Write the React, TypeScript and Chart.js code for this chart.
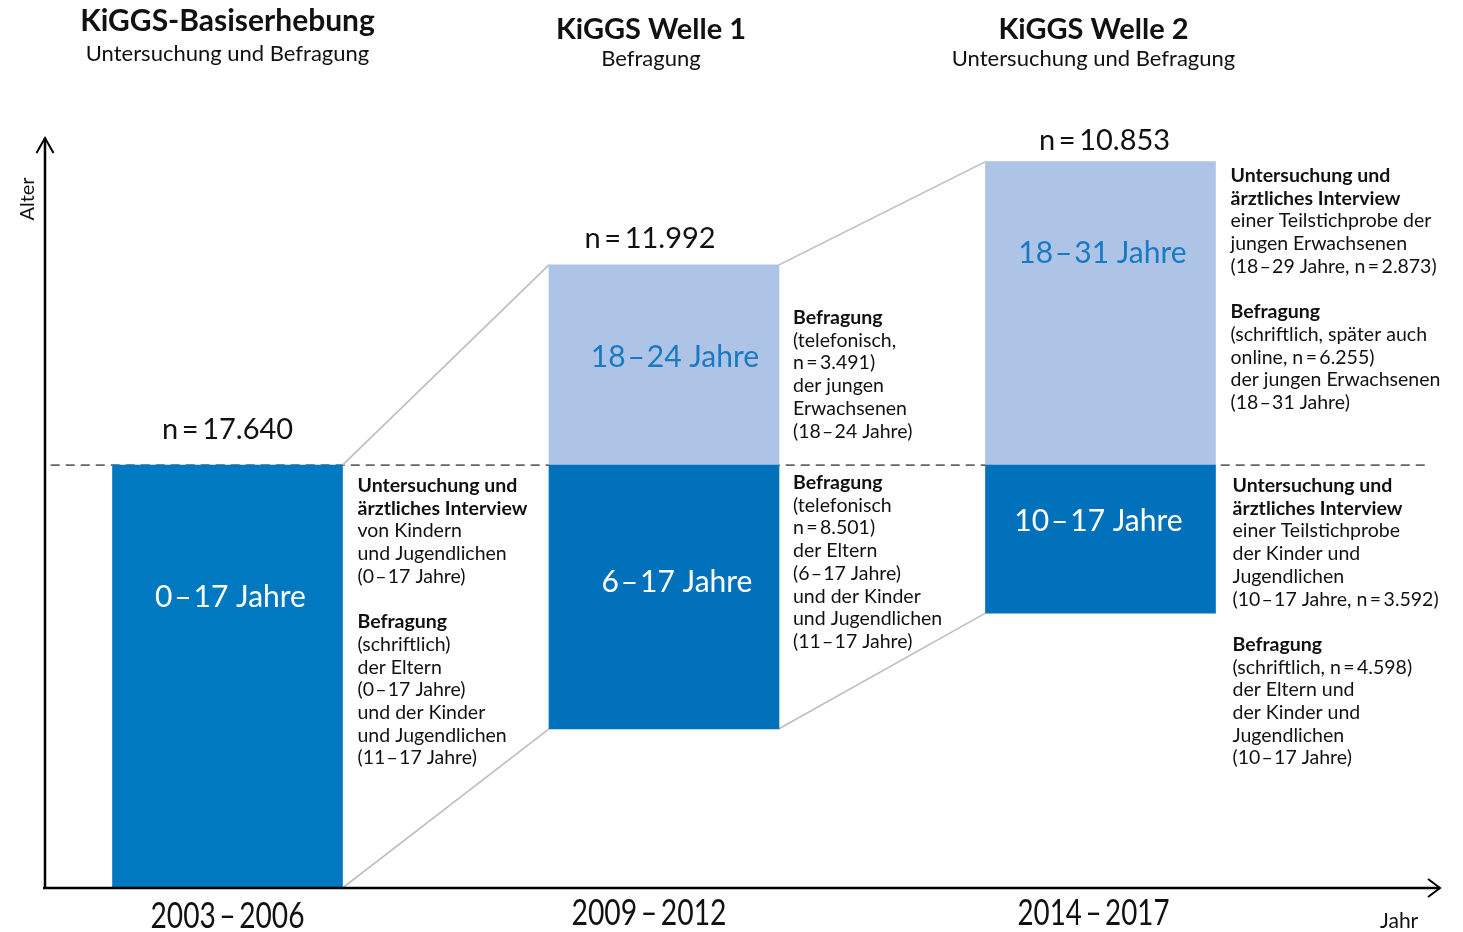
import React, { useEffect, useRef } from "react";
import { Chart, registerables } from "chart.js";

Chart.register(...registerables);

// ---------- data ----------
const waveTitles = ["KiGGS-Basiserhebung", "KiGGS Welle 1", "KiGGS Welle 2"];
const waveSubtitles = ["Untersuchung und Befragung", "Befragung", "Untersuchung und Befragung"];
const periods = ["2003\u2009–\u20092006", "2009\u2009–\u20092012", "2014\u2009–\u20092017"];
const sampleSizes = ["n\u2009=\u200917.640", "n\u2009=\u200911.992", "n\u2009=\u200910.853"];
const wavePos = [0, 1, 2];

// age extent of the child/adolescent blocks (dark) and young adult blocks (light), as drawn
const childAgeFrom = [0, 6.4, 11.05];
const childAgeTo = [17, 17, 17];
const adultAgeFrom = [null, 17, 17];
const adultAgeTo = [null, 25.05, 29.2];
const childLabels = ["0\u200A–\u200A17 Jahre", "6\u200A–\u200A17 Jahre", "10\u200A–\u200A17 Jahre"];
const adultLabels = [null, "18\u200A–\u200A24 Jahre", "18\u200A–\u200A31 Jahre"];
const adultThreshold = 17;

// notes ("*" = bold line, "" = blank line)
const notesWave0 = [
  "*Untersuchung und", "*ärztliches Interview", "von Kindern", "und Jugendlichen", "(0\u200A–\u200A17 Jahre)", "",
  "*Befragung", "(schriftlich)", "der Eltern", "(0\u200A–\u200A17 Jahre)", "und der Kinder", "und Jugendlichen", "(11\u200A–\u200A17 Jahre)",
];
const notesWave1Adult = [
  "*Befragung", "(telefonisch,", "n\u2009=\u20093.491)", "der jungen", "Erwachsenen", "(18\u200A–\u200A24 Jahre)",
];
const notesWave1Child = [
  "*Befragung", "(telefonisch", "n\u2009=\u20098.501)", "der Eltern", "(6\u200A–\u200A17 Jahre)", "und der Kinder", "und Jugendlichen", "(11\u200A–\u200A17 Jahre)",
];
const notesWave2Adult = [
  "*Untersuchung und", "*ärztliches Interview", "einer Teilstichprobe der", "jungen Erwachsenen", "(18\u200A–\u200A29 Jahre, n\u2009=\u20092.873)", "",
  "*Befragung", "(schriftlich, später auch", "online, n\u2009=\u20096.255)", "der jungen Erwachsenen", "(18\u200A–\u200A31 Jahre)",
];
const notesWave2Child = [
  "*Untersuchung und", "*ärztliches Interview", "einer Teilstichprobe", "der Kinder und", "Jugendlichen", "(10\u200A–\u200A17 Jahre, n\u2009=\u20093.592)", "",
  "*Befragung", "(schriftlich, n\u2009=\u20094.598)", "der Eltern und", "der Kinder und", "Jugendlichen", "(10\u200A–\u200A17 Jahre)",
];

// ---------- layout / style ----------
const W = 1463;
const H = 932;
const BAR_PX = 230;
const X_MIN = -0.4204;
const X_MAX = 2.7778;
const Y_MAX = 30.15;
const HALF_UNITS = 0.2635; // half bar width in x units (connector anchors)
const DASH_FROM = -0.405;
const DASH_TO = 2.755;
const FONT = "Lato, 'Open Sans', sans-serif";
const DARK = ["#0079c1", "#0071ba", "#0071ba"];
const LIGHT = "#aec4e7";
const LIGHT_TEXT = "#1a79c3";
const INK = "#111111";

const titleLayout = [
  { dx: 0, tb: 31, sb: 61, size: 30 },
  { dx: -13, tb: 39, sb: 66, size: 29 },
  { dx: -7, tb: 39, sb: 66, size: 29 },
];
const periodLayout = [
  { dx: 0, base: 928, width: 154 },
  { dx: -15, base: 925, width: 155 },
  { dx: -7, base: 925, width: 152 },
];
const nLayout = [
  { dx: 0, base: 439 },
  { dx: -14, base: 248 },
  { dx: 4, base: 150 },
];
const childLabelLayout = [
  { dx: 3, base: 607 },
  { dx: 13, base: 592 },
  { dx: -2, base: 531 },
];
const adultLabelLayout = [null, { dx: 11, base: 367 }, { dx: 2, base: 263 }];
const noteLayout = [
  { lines: notesWave0, wave: 0, dx: 15, base: 492 },
  { lines: notesWave1Adult, wave: 1, dx: 14, base: 324 },
  { lines: notesWave1Child, wave: 1, dx: 14, base: 489 },
  { lines: notesWave2Adult, wave: 2, dx: 15, base: 182 },
  { lines: notesWave2Child, wave: 2, dx: 17, base: 492 },
];
const NOTE_LH = 22.7;
const NOTE_SIZE = 19.5;

function drawText(
  ctx: CanvasRenderingContext2D,
  s: string,
  x: number,
  y: number,
  size: number,
  opts: { bold?: boolean; color?: string; align?: CanvasTextAlign } = {}
) {
  ctx.save();
  ctx.font = `${opts.bold ? "bold " : ""}${size}px ${FONT}`;
  ctx.fillStyle = opts.color || INK;
  ctx.textAlign = opts.align || "left";
  ctx.textBaseline = "alphabetic";
  ctx.fillText(s, x, y);
  ctx.restore();
}

const overlayPlugin = {
  id: "overlay",
  afterDatasetsDraw(chart: any) {
    const { ctx, chartArea, scales } = chart;
    const xs = scales.x;
    const ys = scales.y;
    const cx = (i: number) => xs.getPixelForValue(wavePos[i]);

    // axes
    const x0 = chartArea.left + 1;
    const y0 = ys.getPixelForValue(0);
    ctx.save();
    ctx.strokeStyle = "#000";
    ctx.lineWidth = 2.5;
    ctx.lineCap = "butt";
    ctx.beginPath();
    ctx.moveTo(chartArea.left - 1, y0);
    ctx.lineTo(chartArea.right, y0);
    ctx.moveTo(x0, y0);
    ctx.lineTo(x0, chartArea.top);
    ctx.stroke();
    ctx.lineWidth = 2;
    ctx.beginPath();
    ctx.moveTo(chartArea.right - 12, y0 - 9);
    ctx.lineTo(chartArea.right, y0);
    ctx.lineTo(chartArea.right - 12, y0 + 9);
    ctx.moveTo(x0 - 8.5, chartArea.top + 15);
    ctx.lineTo(x0, chartArea.top);
    ctx.lineTo(x0 + 8.5, chartArea.top + 15);
    ctx.stroke();
    ctx.restore();

    // axis titles
    drawText(ctx, "Jahr", 1380, 928, 21);
    ctx.save();
    ctx.translate(34, 199);
    ctx.rotate(-Math.PI / 2);
    drawText(ctx, "Alter", 0, 0, 20, { align: "center" });
    ctx.restore();

    // wave titles
    waveTitles.forEach((t, i) => {
      const L = titleLayout[i];
      drawText(ctx, t, cx(i) + L.dx, L.tb, L.size, { bold: true, align: "center" });
      drawText(ctx, waveSubtitles[i], cx(i) + L.dx, L.sb, 22, { align: "center" });
    });

    // periods (condensed)
    periods.forEach((p, i) => {
      const L = periodLayout[i];
      ctx.save();
      ctx.font = `36px ${FONT}`;
      const w = ctx.measureText(p).width;
      const k = L.width / w;
      ctx.translate(cx(i) + L.dx, L.base);
      ctx.scale(k, 1);
      ctx.fillStyle = INK;
      ctx.textAlign = "center";
      ctx.textBaseline = "alphabetic";
      ctx.fillText(p, 0, 0);
      ctx.restore();
    });

    // sample sizes
    sampleSizes.forEach((n, i) => {
      const L = nLayout[i];
      drawText(ctx, n, cx(i) + L.dx, L.base, 29, { align: "center" });
    });

    // block labels
    childLabels.forEach((s, i) => {
      const L = childLabelLayout[i];
      drawText(ctx, s, cx(i) + L.dx, L.base, 30, { color: "#ffffff", align: "center" });
    });
    adultLabels.forEach((s, i) => {
      const L = adultLabelLayout[i];
      if (!s || !L) return;
      drawText(ctx, s, cx(i) + L.dx, L.base, 30, { color: LIGHT_TEXT, align: "center" });
    });

    // notes
    noteLayout.forEach((N) => {
      const x = cx(N.wave) + BAR_PX / 2 + N.dx;
      N.lines.forEach((line, k) => {
        if (!line) return;
        const bold = line.startsWith("*");
        drawText(ctx, bold ? line.slice(1) : line, x, N.base + k * NOTE_LH, NOTE_SIZE, { bold });
      });
    });
  },
};

export default function App() {
  const ref = useRef<HTMLCanvasElement | null>(null);

  useEffect(() => {
    document.body.style.margin = "0";
    document.body.style.background = "#ffffff";
    const canvas = ref.current;
    if (!canvas) return;

    const childData = wavePos.map((x, i) => ({ x, y: [childAgeFrom[i], childAgeTo[i]] }));
    const adultData = wavePos
      .map((x, i) => (adultAgeFrom[i] == null ? null : { x, y: [adultAgeFrom[i], adultAgeTo[i]] }))
      .filter(Boolean);
    const adultColors = wavePos.filter((_, i) => adultAgeFrom[i] != null).map(() => LIGHT);

    // connectors between block corners of neighbouring waves
    const topOf = (i: number) => (adultAgeTo[i] != null ? (adultAgeTo[i] as number) : childAgeTo[i]);
    const connectors: any[] = [];
    for (let i = 0; i < wavePos.length - 1; i++) {
      connectors.push({ x: wavePos[i] + HALF_UNITS, y: topOf(i) });
      connectors.push({ x: wavePos[i + 1] - HALF_UNITS, y: topOf(i + 1) });
      connectors.push({ x: wavePos[i] + 0.5, y: null });
      connectors.push({ x: wavePos[i] + HALF_UNITS, y: childAgeFrom[i] });
      connectors.push({ x: wavePos[i + 1] - HALF_UNITS, y: childAgeFrom[i + 1] });
      connectors.push({ x: wavePos[i] + 0.5, y: null });
    }

    const chart = new Chart(canvas, {
      type: "bar",
      data: {
        datasets: [
          {
            type: "bar",
            label: "Kinder und Jugendliche",
            data: childData as any,
            backgroundColor: DARK,
            barThickness: BAR_PX,
            grouped: false,
            borderWidth: 0,
            order: 1,
          } as any,
          {
            type: "bar",
            label: "Junge Erwachsene",
            data: adultData as any,
            backgroundColor: adultColors,
            barThickness: BAR_PX,
            grouped: false,
            borderWidth: 0,
            order: 1,
          } as any,
          {
            type: "line",
            label: "Verbindung",
            data: connectors,
            borderColor: "#bdbdbd",
            borderWidth: 1.6,
            pointRadius: 0,
            spanGaps: false,
            order: 5,
          } as any,
          {
            type: "line",
            label: "18 Jahre",
            data: [
              { x: DASH_FROM, y: adultThreshold },
              { x: DASH_TO, y: adultThreshold },
            ],
            borderColor: "#666666",
            borderWidth: 1.6,
            borderDash: [9, 6],
            pointRadius: 0,
            order: 10,
          } as any,
        ],
      },
      options: {
        animation: false,
        responsive: false,
        maintainAspectRatio: false,
        devicePixelRatio: 1,
        layout: { padding: { left: 44, right: 23, top: 138, bottom: 44 } },
        plugins: { legend: { display: false }, tooltip: { enabled: false } },
        scales: {
          x: {
            type: "linear",
            min: X_MIN,
            max: X_MAX,
            offset: false,
            display: false,
            grid: { display: false, offset: false },
          },
          y: {
            type: "linear",
            min: 0,
            max: Y_MAX,
            display: false,
            grid: { display: false },
          },
        },
      } as any,
      plugins: [overlayPlugin],
    });

    return () => chart.destroy();
  }, []);

  return (
    <div style={{ width: W, height: H, overflow: "hidden", background: "#fff" }}>
      <canvas ref={ref} width={W} height={H} style={{ display: "block", width: W, height: H }} />
    </div>
  );
}
